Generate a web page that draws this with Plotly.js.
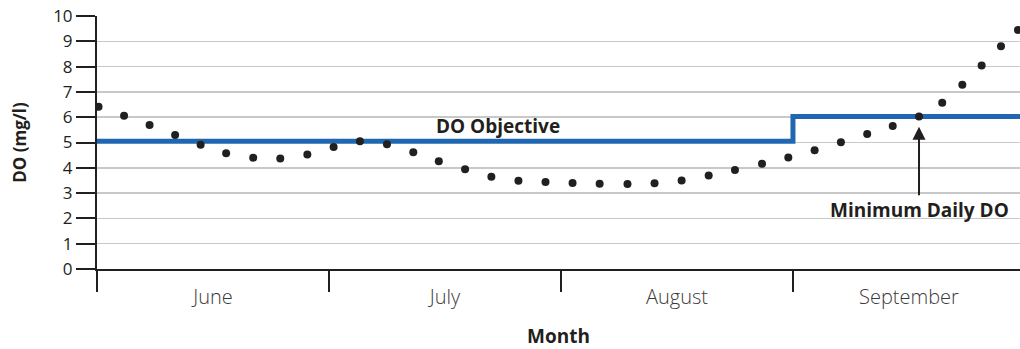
<!DOCTYPE html>
<html>
<head>
<meta charset="utf-8">
<script src="https://cdn.plot.ly/plotly-3.0.1.min.js"></script>
<style>html,body{margin:0;padding:0;background:#fff;}#chart{width:1020px;height:349px;}</style>
</head>
<body>
<div id="chart"></div>
<script>
// Month labels (centered in each month) and month boundaries (days from June 1)
const months = ["June", "July", "August", "September"];
const monthMid = [15, 45, 75, 105];
const monthStart = [0, 30, 60, 90];

// Minimum daily DO (mg/l), x in days from June 1
const doDays = [0.2, 3.5, 6.8, 10.1, 13.4, 16.7, 20.2, 23.7, 27.2, 30.6, 34.0, 37.5, 40.9, 44.2,
  47.6, 51.0, 54.5, 58.0, 61.5, 65.0, 68.6, 72.1, 75.6, 79.1, 82.5, 86.0, 89.4, 92.8, 96.2,
  99.6, 102.9, 106.3, 109.3, 111.9, 114.4, 116.9, 119.1];
const doValues = [6.41, 6.06, 5.69, 5.30, 4.91, 4.58, 4.40, 4.37, 4.53, 4.82, 5.05, 4.93, 4.61, 4.26,
  3.94, 3.65, 3.49, 3.44, 3.40, 3.37, 3.36, 3.39, 3.50, 3.70, 3.91, 4.16, 4.41, 4.69, 5.01,
  5.34, 5.65, 6.03, 6.57, 7.28, 8.04, 8.80, 9.45];

// DO objective (step line)
const objectiveDays = [0, 90, 119.4];
const objectiveValues = [5.05, 6.03, 6.03];

const yTicks = [0,1,2,3,4,5,6,7,8,9,10];

const txt = "#231f20";
const fontFam = "'Open Sans', 'Noto Sans', sans-serif";

const traces = [
  {x: objectiveDays, y: objectiveValues, type: "scatter", mode: "lines",
   line: {shape: "hv", color: "#1f68b1", width: 5}, hoverinfo: "skip"},
  {x: doDays, y: doValues, type: "scatter", mode: "markers",
   marker: {color: txt, size: 8}, hoverinfo: "skip"}
];

const layout = {
  width: 1020, height: 349,
  margin: {l: 97, r: 0, t: 16, b: 80},
  paper_bgcolor: "#fff", plot_bgcolor: "#fff",
  showlegend: false,
  font: {family: fontFam, color: txt},
  xaxis: {
    range: [0, 119.36], showgrid: false, zeroline: false,
    showline: true, linecolor: txt, linewidth: 2,
    tickmode: "array", tickvals: monthMid, ticktext: months,
    ticks: "outside", ticklen: 9, tickcolor: "rgba(0,0,0,0)",
    tickfont: {size: 20, color: "#3a3a3a", weight: 300},
    minor: {tickmode: "array", tickvals: monthStart, ticks: "outside", ticklen: 21, tickwidth: 2, tickcolor: txt, showgrid: false},
    title: {text: "<b>Month</b>", font: {size: 19, color: txt}, standoff: 23}
  },
  yaxis: {
    range: [0, 10], zeroline: false,
    showline: true, linecolor: txt, linewidth: 2,
    tickmode: "array", tickvals: yTicks,
    ticks: "outside", ticklen: 19, tickwidth: 2, tickcolor: txt,
    tickfont: {size: 17, color: txt},
    showgrid: true, gridcolor: "#c8c8c8", gridwidth: 1.5,
    title: {text: "<b>DO (mg/l)</b>", font: {size: 17, color: txt}, standoff: 22}
  },
  annotations: [
    {x: 51.8, y: 5.05, xref: "x", yref: "y", text: "<b>DO Objective</b>", showarrow: false,
     yanchor: "bottom", yshift: 0, font: {size: 19, color: txt}},
    {x: 106.3, y: 5.62, xref: "x", yref: "y", text: "<b>Minimum Daily DO</b>", showarrow: true,
     ax: 0, ay: 83, arrowhead: 2, arrowsize: 1.3, arrowwidth: 2, arrowcolor: txt,
     font: {size: 19, color: txt}}
  ]
};

Plotly.newPlot("chart", traces, layout, {displayModeBar: false, staticPlot: true});
</script>
</body>
</html>
